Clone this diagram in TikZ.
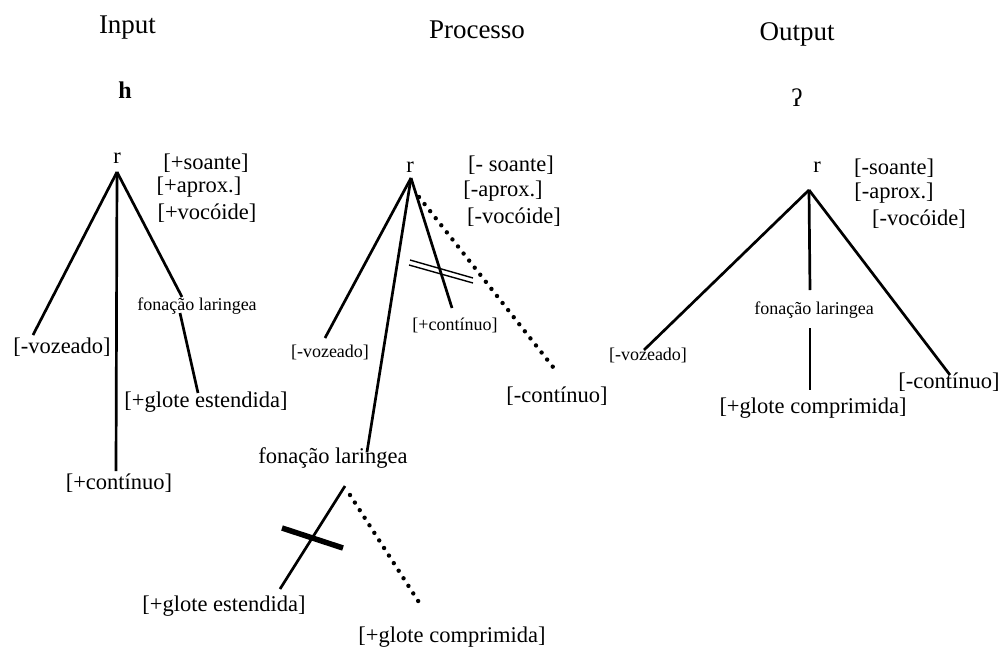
\documentclass[tikz,border=0pt]{standalone}
\usepackage{fontspec}
\setmainfont{Liberation Serif}
\begin{document}
\begin{tikzpicture}[x=1pt,y=-1pt,
  hdr/.style={inner sep=0pt,font=\fontsize{27}{30}\selectfont},
  lbl/.style={inner sep=0pt,font=\fontsize{22.5}{26}\selectfont},
  sml/.style={inner sep=0pt,font=\fontsize{18}{21}\selectfont},
  branch/.style={line width=2.7pt},
  dotline/.style={line width=4.4pt,line cap=round,dash pattern=on 0pt off 9pt},
  cutbar/.style={line width=1.4pt},
  blockbar/.style={line width=5.5pt}]
\useasboundingbox (0,0) rectangle (1002,649);

% column headings
\node[hdr,anchor=base] (hin)  at (127.5,33) {Input};
\node[hdr,anchor=base] (hpro) at (477,38) {Processo};
\node[hdr,anchor=base] (hout) at (797,40) {Output};
\node[hdr,anchor=base] (seg1) at (125,98) {\fontsize{24}{28}\selectfont\bfseries h};
\node[hdr,anchor=base] (seg3) at (797,106) {\fontsize{25}{28}\selectfont ʔ};

% ---- Input: /h/ ----
\node[lbl,anchor=base] (r1) at (117,163) {r};
\coordinate (a1) at (117,172);
\node[lbl] (f1a) at (206,163) {[+soante]};
\node[lbl] (f1b) at (199,187) {[+aprox.]};
\node[lbl] (f1c) at (207,213) {[+vocóide]};
\node[lbl] (vz1) at (62,347) {[-vozeado]};
\node[lbl] (ct1) at (119,483) {[+contínuo]};
\node[sml] (fl1) at (197,306) {fonação laringea};
\node[lbl] (ge1) at (206,402) {[+glote estendida]};
\coordinate (vz1t) at (33,335);
\coordinate (ct1t) at (116,471);
\coordinate (fl1t) at (182,297);
\coordinate (fl1b) at (180,313);
\coordinate (ge1t) at (198,393);
\draw[branch] (a1) -- (vz1t);
\draw[branch] (a1) -- (ct1t);
\draw[branch] (a1) -- (fl1t);
\draw[branch] (fl1b) -- (ge1t);

% ---- Processo ----
\node[lbl,anchor=base] (r2) at (410,172) {r};
\coordinate (a2) at (411,178);
\node[lbl] (f2a) at (511,165) {[- soante]};
\node[lbl] (f2b) at (503,191) {[-aprox.]};
\node[lbl] (f2c) at (514,217) {[-vocóide]};
\node[sml] (vz2) at (330,352) {[-vozeado]};
\node[sml] (ct2) at (455,325) {[+contínuo]};
\node[lbl] (nc2) at (557,396) {[-contínuo]};
\node[lbl,anchor=base] (fl2) at (333,463) {fonação laringea};
\node[lbl] (ge2) at (224,606) {[+glote estendida]};
\node[lbl] (gc2) at (452,637) {[+glote comprimida]};
\coordinate (vz2t) at (325,338);
\coordinate (ct2t) at (452,308);
\coordinate (fl2t) at (367,452);
\coordinate (nc2s) at (419,197);
\coordinate (nc2t) at (553,367);
\coordinate (fl2b) at (345,486);
\coordinate (ge2t) at (280,589);
\coordinate (fl2d) at (350,495);
\coordinate (gc2t) at (422,607);
\draw[branch] (a2) -- (vz2t);
\draw[branch] (a2) -- (fl2t);
\draw[branch] (a2) -- (ct2t);
\draw[dotline] (nc2s) -- (nc2t);
\draw[branch] (fl2b) -- (ge2t);
\draw[dotline] (fl2d) -- (gc2t);
% delinking marks
\coordinate (x1a) at (410,260); \coordinate (x1b) at (473,278);
\coordinate (x2a) at (409,265); \coordinate (x2b) at (473,283);
\draw[cutbar] (x1a) -- (x1b);
\draw[cutbar] (x2a) -- (x2b);
\coordinate (x3a) at (282,528); \coordinate (x3b) at (343,548);
\draw[blockbar] (x3a) -- (x3b);

% ---- Output: glottal stop ----
\node[lbl,anchor=base] (r3) at (817,172) {r};
\coordinate (a3) at (809,190);
\node[lbl] (f3a) at (894,168) {[-soante]};
\node[lbl] (f3b) at (894,193) {[-aprox.]};
\node[lbl] (f3c) at (919,219) {[-vocóide]};
\node[sml] (vz3) at (648,355) {[-vozeado]};
\node[sml] (fl3) at (814,310) {fonação laringea};
\node[lbl] (gc3) at (813,408) {[+glote comprimida]};
\node[lbl] (nc3) at (949,382) {[-contínuo]};
\coordinate (vz3t) at (644,350);
\coordinate (fl3t) at (810,290);
\coordinate (fl3b) at (810,328);
\coordinate (gc3t) at (810,390);
\coordinate (nc3t) at (950,375);
\draw[branch] (a3) -- (vz3t);
\draw[branch] (a3) -- (fl3t);
\draw[branch] (fl3b) -- (gc3t);
\draw[branch] (a3) -- (nc3t);
\end{tikzpicture}
\end{document}
